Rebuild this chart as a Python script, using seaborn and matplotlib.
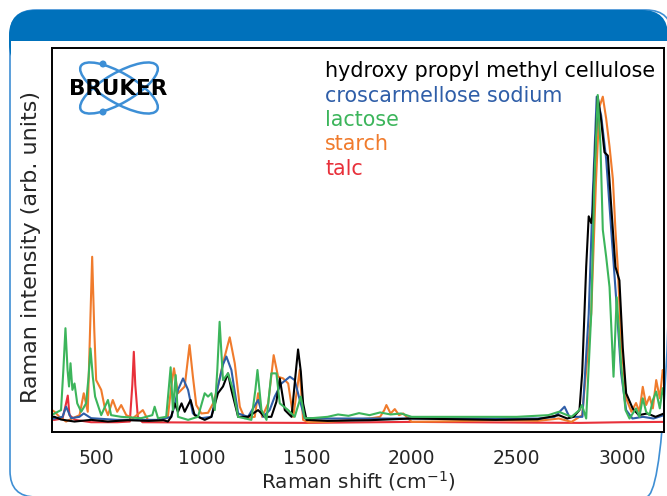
import numpy as np
import pandas as pd
import matplotlib.pyplot as plt
import seaborn as sns
from matplotlib.patches import FancyBboxPatch, Rectangle, Ellipse, Circle

sns.set_style("white")
plt.rcParams['font.family'] = ['DejaVu Sans']

# Raman spectra (shift in cm-1, intensity normalised to main C-H peak)
hpmc_shift = [290, 302, 333, 397, 476, 556, 650, 750, 820, 841, 857, 873, 889, 906, 921, 949, 968,
              1016, 1048, 1079, 1103, 1127, 1143, 1175, 1222, 1270, 1302, 1333, 1357, 1373, 1397,
              1429, 1448, 1460, 1473, 1484, 1500, 1600, 1800, 2000, 2200, 2400, 2600, 2700, 2740,
              2770, 2798, 2811, 2830, 2842, 2854, 2861, 2874, 2885, 2901, 2917, 2933, 2949, 2969,
              2988, 3004, 3020, 3051, 3080, 3120, 3160, 3200]
hpmc_int = [0.045, 0.045, 0.037, 0.031, 0.036, 0.031, 0.035, 0.033, 0.035, 0.031, 0.045, 0.085, 0.060,
            0.085, 0.060, 0.095, 0.050, 0.036, 0.045, 0.115, 0.135, 0.174, 0.125, 0.045, 0.045,
            0.065, 0.045, 0.045, 0.090, 0.159, 0.065, 0.045, 0.170, 0.245, 0.180, 0.085, 0.036,
            0.033, 0.035, 0.040, 0.038, 0.036, 0.038, 0.050, 0.040, 0.045, 0.065, 0.175, 0.490,
            0.640, 0.620, 0.650, 0.847, 0.995, 0.926, 0.830, 0.820, 0.670, 0.490, 0.450, 0.250,
            0.115, 0.070, 0.050, 0.055, 0.045, 0.055]

cros_shift = [290, 302, 340, 357, 381, 420, 441, 476, 600, 800, 857, 873, 889, 913, 937, 960, 1000,
              1048, 1079, 1103, 1119, 1143, 1175, 1222, 1270, 1294, 1325, 1349, 1381, 1421, 1444,
              1468, 1492, 1600, 1800, 2000, 2200, 2400, 2600, 2680, 2727, 2750, 2812, 2842, 2861,
              2880, 2901, 2925, 2949, 2972, 2996, 3020, 3050, 3100, 3150, 3200]
cros_int = [0.040, 0.040, 0.045, 0.075, 0.041, 0.045, 0.055, 0.041, 0.036, 0.036, 0.045, 0.080, 0.125,
            0.159, 0.125, 0.055, 0.041, 0.045, 0.135, 0.200, 0.224, 0.184, 0.055, 0.045, 0.095,
            0.045, 0.065, 0.105, 0.144, 0.164, 0.154, 0.095, 0.041, 0.040, 0.040, 0.040, 0.040,
            0.040, 0.040, 0.045, 0.075, 0.045, 0.045, 0.350, 0.700, 0.995, 0.940, 0.810, 0.600,
            0.400, 0.175, 0.065, 0.040, 0.045, 0.040, 0.050]

lact_shift = [290, 302, 333, 344, 354, 364, 371, 378, 387, 397, 410, 429, 452, 464, 473, 484, 495,
              524, 556, 571, 619, 714, 767, 778, 794, 833, 846, 854, 865, 878, 889, 937, 984,
              1016, 1032, 1048, 1064, 1076, 1087, 1103, 1127, 1151, 1175, 1238, 1257, 1267, 1286,
              1310, 1333, 1357, 1373, 1413, 1444, 1473, 1492, 1524, 1600, 1650, 1700, 1750, 1800,
              1850, 1900, 1950, 2000, 2100, 2300, 2500, 2650, 2700, 2760, 2798, 2810, 2830, 2854,
              2869, 2885, 2898, 2909, 2925, 2941, 2960, 2975, 2996, 3017, 3036, 3067, 3083, 3099,
              3115, 3131, 3147, 3163, 3180, 3194, 3200]
lact_int = [0.050, 0.055, 0.065, 0.184, 0.308, 0.184, 0.135, 0.204, 0.125, 0.144, 0.085, 0.060, 0.085,
            0.164, 0.248, 0.164, 0.105, 0.050, 0.095, 0.050, 0.045, 0.041, 0.050, 0.075, 0.041,
            0.045, 0.135, 0.192, 0.065, 0.169, 0.045, 0.036, 0.045, 0.115, 0.105, 0.115, 0.065,
            0.184, 0.327, 0.154, 0.174, 0.125, 0.045, 0.036, 0.125, 0.184, 0.065, 0.036, 0.174,
            0.174, 0.085, 0.065, 0.045, 0.105, 0.041, 0.041, 0.045, 0.052, 0.048, 0.056, 0.050,
            0.058, 0.052, 0.055, 0.045, 0.045, 0.045, 0.045, 0.050, 0.060, 0.045, 0.065, 0.080,
            0.040, 0.350, 0.750, 1.000, 0.850, 0.600, 0.520, 0.430, 0.164, 0.400, 0.200, 0.065,
            0.040, 0.070, 0.045, 0.100, 0.060, 0.050, 0.095, 0.120, 0.070, 0.130, 0.110]

starch_shift = [290, 302, 325, 357, 389, 421, 441, 460, 471, 481, 491, 500, 524, 540, 556, 579, 600,
                619, 643, 675, 722, 746, 810, 841, 857, 870, 889, 921, 944, 960, 976, 1000, 1032,
                1056, 1079, 1103, 1135, 1159, 1183, 1206, 1254, 1270, 1289, 1318, 1344, 1365, 1389,
                1413, 1437, 1468, 1484, 1508, 1600, 1700, 1800, 1850, 1870, 1880, 1900, 1920, 1940,
                1960, 2000, 2200, 2400, 2600, 2700, 2760, 2811, 2854, 2877, 2893, 2909, 2925, 2941,
                2957, 2969, 2980, 2996, 3020, 3045, 3067, 3083, 3099, 3115, 3131, 3147, 3163, 3180,
                3194, 3200]
starch_int = [0.065, 0.060, 0.045, 0.031, 0.041, 0.050, 0.115, 0.060, 0.303, 0.520, 0.303, 0.154,
              0.125, 0.075, 0.050, 0.095, 0.060, 0.080, 0.050, 0.041, 0.065, 0.036, 0.034, 0.045,
              0.135, 0.189, 0.115, 0.135, 0.258, 0.164, 0.080, 0.055, 0.057, 0.085, 0.135, 0.204,
              0.281, 0.204, 0.075, 0.041, 0.045, 0.115, 0.045, 0.085, 0.228, 0.164, 0.159, 0.144,
              0.045, 0.184, 0.036, 0.029, 0.030, 0.035, 0.040, 0.045, 0.065, 0.080, 0.055, 0.068,
              0.050, 0.055, 0.030, 0.032, 0.035, 0.033, 0.040, 0.030, 0.050, 0.352, 0.750, 0.965,
              0.995, 0.930, 0.847, 0.750, 0.600, 0.490, 0.270, 0.100, 0.060, 0.086, 0.060, 0.134,
              0.080, 0.105, 0.070, 0.154, 0.100, 0.184, 0.170]

talc_shift = [290, 302, 340, 357, 365, 373, 400, 476, 600, 660, 672, 679, 686, 698, 720, 1000, 1500,
              2000, 2500, 2800, 3000, 3200]
talc_int = [0.036, 0.036, 0.040, 0.085, 0.108, 0.050, 0.036, 0.029, 0.029, 0.031, 0.140, 0.238, 0.140,
            0.045, 0.029, 0.028, 0.027, 0.030, 0.028, 0.027, 0.029, 0.030]

names = ['hydroxy propyl methyl cellulose', 'croscarmellose sodium', 'lactose', 'starch', 'talc']
colors = ['#000000', '#2f5ea8', '#3cb55b', '#f07b2c', '#e8303a']
draw_order = ['talc', 'starch', 'croscarmellose sodium', 'hydroxy propyl methyl cellulose', 'lactose']

series = {
    names[0]: (hpmc_shift, hpmc_int),
    names[1]: (cros_shift, cros_int),
    names[2]: (lact_shift, lact_int),
    names[3]: (starch_shift, starch_int),
    names[4]: (talc_shift, talc_int),
}
df = pd.concat([pd.DataFrame({'shift': s, 'intensity': i, 'sample': n})
                for n, (s, i) in series.items()], ignore_index=True)

W, H = 667, 496
fig = plt.figure(figsize=(W / 100, H / 100), dpi=100)

# decoration layer in pixel coordinates
deco = fig.add_axes([0, 0, 1, 1], zorder=0)
deco.set_xlim(0, W)
deco.set_ylim(H, 0)
deco.axis('off')
deco.add_patch(FancyBboxPatch((10, 10), 662, 487, boxstyle='round,pad=0,rounding_size=26',
                              fc='none', ec='#3f8fd4', lw=1.2))
deco.add_patch(FancyBboxPatch((9, 10), 659, 60, boxstyle='round,pad=0,rounding_size=26',
                              fc='#0071bb', ec='none'))
deco.add_patch(Rectangle((10.8, 41), 665, 30, fc='white', ec='none'))

ax = fig.add_axes([52 / W, (H - 432) / H, (664 - 52) / W, (432 - 48) / H], zorder=1)
sns.lineplot(data=df, x='shift', y='intensity', hue='sample', hue_order=draw_order,
             palette=dict(zip(names, colors)), sort=False, estimator=None,
             lw=1.5, legend=False, ax=ax)
ax.set_xlim(290, 3200)
ax.set_ylim(0, 384 / 337)
ax.set_yticks([])
ax.set_xticks([500, 1000, 1500, 2000, 2500, 3000])
ax.tick_params(axis='x', direction='out', length=6, width=1.4, labelsize=13.5, pad=6, color='black')
for sp in ax.spines.values():
    sp.set_visible(True)
    sp.set_color('black')
    sp.set_linewidth(1.4)
ax.set_xlabel('')
ax.set_ylabel('')

fig.text(358 / W, 1 - 481 / H, 'Raman shift (cm$^{-1}$)', ha='center', va='center', fontsize=14.4)
fig.text(31 / W, 1 - 247 / H, 'Raman intensity (arb. units)', ha='center', va='center',
         rotation=90, fontsize=16)

# coloured text legend
baselines = [77.3, 101.7, 126, 150.5, 175]
for n, c, yb in zip(names, colors, baselines):
    fig.text(325 / W, 1 - yb / H, n, color=c, fontsize=14.9, ha='left', va='baseline')

# logo
logo = fig.add_axes([0, 0, 1, 1], zorder=2)
logo.set_xlim(0, W)
logo.set_ylim(H, 0)
logo.axis('off')
for ang in (30, -30):
    logo.add_patch(Ellipse((119, 88), 88, 30, angle=ang, fc='none', ec='#3d8fd6', lw=1.8))
logo.add_patch(Circle((103, 64), 3.5, fc='#3d8fd6', ec='none'))
logo.add_patch(Circle((103, 112), 3.5, fc='#3d8fd6', ec='none'))
logo.text(118, 89, 'BRUKER', ha='center', va='center', fontsize=15.5, fontweight='heavy', color='black')

fig.savefig('out.png', dpi=100)
